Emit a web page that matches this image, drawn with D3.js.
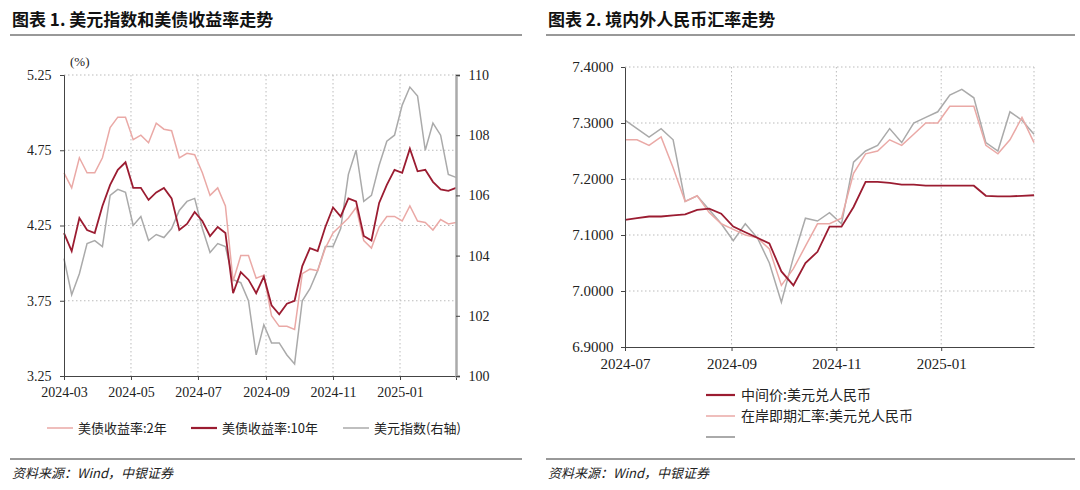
<!DOCTYPE html>
<html><head><meta charset="utf-8">
<script src="https://cdn.jsdelivr.net/npm/d3@7"></script>
<style>
body{margin:0;background:#fff;}
svg text{font-family:"Liberation Serif","Noto Sans CJK SC",serif;}
.cn{font-family:"Noto Sans CJK SC",sans-serif;}
</style></head><body>
<div id="chart"></div>
<script>
const W = 1080, H = 490;

// ---- left chart data (weekly, Fridays) ----
const leftStart = "2024-03-01";
const y2 = [4.6,4.5,4.7,4.6,4.6,4.7,4.9,4.97,4.97,4.82,4.85,4.8,4.93,4.89,4.88,4.7,4.73,4.72,4.6,4.45,4.5,4.38,3.88,4.05,4.05,3.9,3.92,3.65,3.58,3.58,3.56,3.93,3.96,3.95,4.1,4.2,4.25,4.3,4.37,4.15,4.1,4.24,4.31,4.31,4.28,4.38,4.28,4.27,4.22,4.29,4.26,4.27];
const y10 = [4.2,4.08,4.3,4.22,4.2,4.38,4.52,4.62,4.67,4.5,4.5,4.42,4.47,4.5,4.43,4.22,4.26,4.34,4.28,4.18,4.24,4.2,3.8,3.94,3.89,3.8,3.91,3.72,3.66,3.73,3.75,3.98,4.1,4.08,4.24,4.37,4.31,4.43,4.41,4.18,4.15,4.4,4.52,4.62,4.6,4.76,4.61,4.62,4.54,4.49,4.48,4.5];
const dxy = [103.9,102.7,103.4,104.4,104.5,104.3,106.0,106.2,106.1,105.0,105.3,104.5,104.7,104.6,104.9,105.5,105.8,105.9,104.9,104.1,104.4,104.3,103.2,103.1,102.5,100.7,101.7,101.1,101.1,100.7,100.4,102.5,102.9,103.5,104.3,104.3,104.9,106.7,107.5,105.8,106.0,107.0,107.8,108.0,109.0,109.6,109.3,107.5,108.4,108.0,106.7,106.6];
const leftYTicks = [3.25,3.75,4.25,4.75,5.25];
const leftY2Ticks = [100,102,104,106,108,110];
const leftXTicks = ["2024-03","2024-05","2024-07","2024-09","2024-11","2025-01"];
const leftLegend = ["美债收益率:2年","美债收益率:10年","美元指数(右轴)"];

// ---- right chart data (weekly, Mondays) ----
const rightStart = "2024-07-01";
const mid = [7.127,7.130,7.133,7.133,7.135,7.137,7.145,7.147,7.138,7.115,7.105,7.095,7.085,7.035,7.01,7.05,7.07,7.115,7.115,7.15,7.195,7.195,7.193,7.19,7.19,7.188,7.188,7.188,7.188,7.188,7.17,7.169,7.169,7.17,7.171];
const onshore = [7.27,7.27,7.26,7.275,7.22,7.16,7.17,7.14,7.12,7.11,7.10,7.095,7.075,7.01,7.04,7.08,7.12,7.12,7.13,7.21,7.245,7.25,7.27,7.26,7.28,7.30,7.30,7.33,7.33,7.33,7.26,7.245,7.27,7.31,7.265];
const offshore = [7.305,7.29,7.275,7.29,7.27,7.16,7.17,7.145,7.12,7.09,7.12,7.095,7.05,6.98,7.06,7.13,7.125,7.14,7.12,7.23,7.25,7.26,7.29,7.265,7.30,7.31,7.32,7.35,7.36,7.345,7.265,7.25,7.32,7.305,7.28];
const rightYTicks = [6.9,7.0,7.1,7.2,7.3,7.4];
const rightXTicks = ["2024-07","2024-09","2024-11","2025-01"];
const rightLegend = ["中间价:美元兑人民币","在岸即期汇率:美元兑人民币",""];

const C2 = "#eaa9a6", C10 = "#9b1c31", CG = "#aaaaaa";
const parseM = d3.timeParse("%Y-%m");
const weekly = (start, n) => d3.range(n).map(i => d3.timeDay.offset(new Date(start), i * 7));

const svg = d3.select("#chart").append("svg").attr("width", W).attr("height", H);

function frame(x0, x1, title) {
  svg.append("text").attr("class", "cn").attr("x", x0 + 2).attr("y", 26)
    .attr("font-size", 17).attr("font-weight", "bold").attr("fill", "#111").text(title);
  svg.append("line").attr("x1", x0).attr("x2", x1).attr("y1", 35).attr("y2", 35).attr("stroke", "#333").attr("stroke-width", 1);
  svg.append("line").attr("x1", x0).attr("x2", x1).attr("y1", 459).attr("y2", 459).attr("stroke", "#333").attr("stroke-width", 1);
  svg.append("text").attr("class", "cn").attr("x", x0 + 2).attr("y", 478)
    .attr("font-size", 13).attr("font-style", "italic").attr("fill", "#222").text("资料来源：Wind，中银证券");
}

function grid(g, x, y, xt, yt, xr, yr) {
  g.selectAll(".hg").data(yt).enter().append("line")
    .attr("x1", xr[0]).attr("x2", xr[1]).attr("y1", y).attr("y2", y)
    .attr("stroke", "#bbb").attr("stroke-dasharray", "1.5,2.5");
  g.selectAll(".vg").data(xt).enter().append("line")
    .attr("x1", x).attr("x2", x).attr("y1", yr[0]).attr("y2", yr[1])
    .attr("stroke", "#bbb").attr("stroke-dasharray", "1.5,2.5");
}

// ===== left chart =====
frame(10, 522, "图表 1. 美元指数和美债收益率走势");
{
  const dates = weekly(leftStart, y2.length);
  const x = d3.scaleTime().domain([new Date(leftStart), new Date("2025-02-21")]).range([64, 456]);
  const y = d3.scaleLinear().domain([3.25, 5.25]).range([376, 75]);
  const yR = d3.scaleLinear().domain([100, 110]).range([376, 75]);
  const g = svg.append("g");
  g.append("g").selectAll("line").data(leftYTicks.slice(1)).enter().append("line")
    .attr("x1", 64).attr("x2", 456).attr("y1", d => y(d)).attr("y2", d => y(d))
    .attr("stroke", "#bbb").attr("stroke-dasharray", "1.5,2.5");
  g.append("g").selectAll("line").data(leftXTicks.slice(1)).enter().append("line")
    .attr("x1", d => x(parseM(d))).attr("x2", d => x(parseM(d))).attr("y1", 75).attr("y2", 376)
    .attr("stroke", "#bbb").attr("stroke-dasharray", "1.5,2.5");

  const line = (yy, arr) => d3.line().x((d, i) => x(dates[i])).y(d => yy(d))(arr);
  g.append("path").attr("d", line(yR, dxy)).attr("fill", "none").attr("stroke", CG).attr("stroke-width", 1.5);
  g.append("path").attr("d", line(y, y2)).attr("fill", "none").attr("stroke", C2).attr("stroke-width", 1.5);
  g.append("path").attr("d", line(y, y10)).attr("fill", "none").attr("stroke", C10).attr("stroke-width", 1.8);

  const ax = g.append("g").attr("transform", "translate(0,376)")
    .call(d3.axisBottom(x).tickValues(leftXTicks.map(parseM)).tickFormat(d3.timeFormat("%Y-%m")).tickSize(4));
  const al = g.append("g").attr("transform", "translate(64,0)")
    .call(d3.axisLeft(y).tickValues(leftYTicks).tickFormat(d3.format(".2f")).tickSize(4));
  const ar = g.append("g").attr("transform", "translate(456,0)")
    .call(d3.axisRight(yR).tickValues(leftY2Ticks).tickSize(4));
  [ax, al, ar].forEach(a => { a.selectAll("text").attr("font-size", 14).attr("fill", "#222"); a.selectAll("line").attr("stroke", "#444"); a.select(".domain").attr("stroke", "#444"); });
  ax.selectAll("text").attr("dy", "1em");
  al.selectAll("text").attr("dx", "-0.4em");
  ar.select(".domain").attr("stroke", "#aaa").attr("stroke-width", 2.5);
  ar.selectAll("text").attr("dx", "0.4em");
  g.append("text").attr("x", 70).attr("y", 66).attr("font-size", 13).attr("fill", "#222").text("(%)");

  const lx = [47, 191, 343], lc = [C2, C10, CG], lw = [1.5, 2.2, 1.5];
  leftLegend.forEach((t, i) => {
    g.append("line").attr("x1", lx[i]).attr("x2", lx[i] + 26).attr("y1", 428).attr("y2", 428).attr("stroke", lc[i]).attr("stroke-width", lw[i]);
    g.append("text").attr("class", "cn").attr("x", lx[i] + 31).attr("y", 433).attr("font-size", 13).attr("fill", "#222").text(t);
  });
}

// ===== right chart =====
frame(546, 1075, "图表 2. 境内外人民币汇率走势");
{
  const dates = weekly(rightStart, mid.length);
  const x = d3.scaleTime().domain([new Date(rightStart), new Date("2025-02-24")]).range([625, 1034]);
  const y = d3.scaleLinear().domain([6.9, 7.4]).range([347, 67]);
  const g = svg.append("g");
  g.append("g").selectAll("line").data(rightYTicks.slice(1)).enter().append("line")
    .attr("x1", 625).attr("x2", 1034).attr("y1", d => y(d)).attr("y2", d => y(d))
    .attr("stroke", "#bbb").attr("stroke-dasharray", "1.5,2.5");
  g.append("g").selectAll("line").data(rightXTicks.slice(1)).enter().append("line")
    .attr("x1", d => x(parseM(d))).attr("x2", d => x(parseM(d))).attr("y1", 67).attr("y2", 347)
    .attr("stroke", "#bbb").attr("stroke-dasharray", "1.5,2.5");
  g.append("line").attr("x1", 1034).attr("x2", 1034).attr("y1", 67).attr("y2", 347).attr("stroke", "#bbb").attr("stroke-dasharray", "1.5,2.5");

  const line = arr => d3.line().x((d, i) => x(dates[i])).y(d => y(d))(arr);
  g.append("path").attr("d", line(offshore)).attr("fill", "none").attr("stroke", CG).attr("stroke-width", 1.5);
  g.append("path").attr("d", line(onshore)).attr("fill", "none").attr("stroke", C2).attr("stroke-width", 1.5);
  g.append("path").attr("d", line(mid)).attr("fill", "none").attr("stroke", C10).attr("stroke-width", 1.8);

  const ax = g.append("g").attr("transform", "translate(0,347)")
    .call(d3.axisBottom(x).tickValues(rightXTicks.map(parseM)).tickFormat(d3.timeFormat("%Y-%m")).tickSize(4).tickSizeOuter(0));
  const al = g.append("g").attr("transform", "translate(625,0)")
    .call(d3.axisLeft(y).tickValues(rightYTicks).tickFormat(d3.format(".4f")).tickSize(4).tickSizeOuter(0));
  [ax, al].forEach(a => { a.selectAll("text").attr("font-size", 15).attr("fill", "#222"); a.selectAll("line").attr("stroke", "#444"); a.select(".domain").attr("stroke", "#444"); });
  ax.selectAll("text").attr("dy", "1em");
  al.selectAll("text").attr("dx", "-0.3em");

  const lc = [C10, C2, CG], lw = [2.2, 1.5, 2];
  rightLegend.forEach((t, i) => {
    const yy = 395 + i * 21;
    g.append("line").attr("x1", 706).attr("x2", 735).attr("y1", yy).attr("y2", yy).attr("stroke", lc[i]).attr("stroke-width", lw[i]);
    g.append("text").attr("class", "cn").attr("x", 741).attr("y", yy + 5).attr("font-size", 14).attr("fill", "#222").text(t);
  });
}
</script>
</body></html>
